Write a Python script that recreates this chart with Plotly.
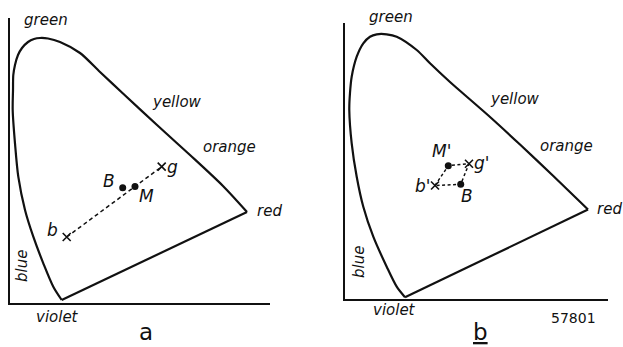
import plotly.graph_objects as go

W, H = 623, 347
SCALE = 320.0  # pixels per chromaticity unit on both panels

# Spectral locus of panel a, from the violet end over green to the red end
locus_a_x = [0.1616, 0.1353, 0.1041, 0.0728, 0.0469, 0.0259, 0.0156, 0.0084, 0.0094,
             0.0103, 0.0156, 0.0250, 0.0375, 0.0563, 0.0750, 0.0938, 0.1188, 0.1563,
             0.2188, 0.2813, 0.3531, 0.4594, 0.5625, 0.6656, 0.7406]
locus_a_y = [0.0078, 0.0494, 0.1225, 0.2056, 0.2891, 0.3931, 0.4975, 0.6016, 0.6641,
             0.7109, 0.7422, 0.7734, 0.7953, 0.8141, 0.8234, 0.8266, 0.8250, 0.8141,
             0.7797, 0.7203, 0.6531, 0.5547, 0.4609, 0.3641, 0.2828]

# Spectral locus of panel b
locus_b_x = [0.1875, 0.1616, 0.1303, 0.0884, 0.0572, 0.0366, 0.0209, 0.0134, 0.0156,
             0.0209, 0.0366, 0.0572, 0.0781, 0.0991, 0.1303, 0.1616, 0.2241, 0.2656,
             0.3281, 0.4428, 0.5469, 0.6510, 0.7594]
locus_b_y = [0.0053, 0.0384, 0.1009, 0.1947, 0.2884, 0.3822, 0.4866, 0.5906, 0.6438,
             0.6947, 0.7572, 0.7991, 0.8197, 0.8272, 0.8272, 0.8197, 0.7781, 0.7366,
             0.6781, 0.5781, 0.4828, 0.3844, 0.2797]

# Colour points of panel a: mixing line b-g with M on it, and B
pts_a_names = ["b", "g", "B", "M"]
pts_a_x = [0.1772, 0.4741, 0.3522, 0.3906]
pts_a_y = [0.2047, 0.4244, 0.3588, 0.3626]

# Colour points of panel b: parallelogram b'-M'-g'-B
pts_b_names = ["b'", "M'", "g'", "B"]
pts_b_x = [0.2813, 0.3228, 0.3875, 0.3616]
pts_b_y = [0.3547, 0.4166, 0.4228, 0.3584]

FONT = "DejaVu Sans"
INK = "#111111"

# pixel frames of the two panels: (left, right, top, bottom); origin = left/bottom
frames = {
    "a": dict(left=9.5, right=270, top=18, bottom=302.5, ox=10, oy=302.5),
    "b": dict(left=345, right=608, top=22.7, bottom=299, ox=345, oy=299),
}


def P(xpx, ypx):
    return xpx / W, 1 - ypx / H


fig = go.Figure()


def add_locus(lx, ly, xa, ya):
    fig.add_trace(go.Scatter(x=lx, y=ly, mode="lines", xaxis=xa, yaxis=ya,
                             line=dict(color=INK, width=2.2, shape="spline", smoothing=0.8),
                             hoverinfo="skip"))
    # purple line closing red back to violet
    fig.add_trace(go.Scatter(x=[lx[-1], lx[0]], y=[ly[-1], ly[0]], mode="lines",
                             xaxis=xa, yaxis=ya, line=dict(color=INK, width=2.2),
                             hoverinfo="skip"))


add_locus(locus_a_x, locus_a_y, "x", "y")
add_locus(locus_b_x, locus_b_y, "x2", "y2")

# panel a: dashed mixing line b -> g
fig.add_trace(go.Scatter(x=[pts_a_x[0], pts_a_x[1]], y=[pts_a_y[0], pts_a_y[1]],
                         mode="lines", xaxis="x", yaxis="y",
                         line=dict(color=INK, width=1.5, dash="4px,3px")))
fig.add_trace(go.Scatter(x=pts_a_x[:2], y=pts_a_y[:2], mode="markers", xaxis="x", yaxis="y",
                         marker=dict(symbol="x-thin", size=8, line=dict(color=INK, width=1.6))))
fig.add_trace(go.Scatter(x=pts_a_x[2:], y=pts_a_y[2:], mode="markers", xaxis="x", yaxis="y",
                         marker=dict(symbol="circle", size=7, color=INK)))

# panel b: dashed parallelogram b' -> M' -> g' -> B -> b'
order = [0, 1, 2, 3, 0]
fig.add_trace(go.Scatter(x=[pts_b_x[i] for i in order], y=[pts_b_y[i] for i in order],
                         mode="lines", xaxis="x2", yaxis="y2",
                         line=dict(color=INK, width=1.5, dash="3px,2.5px")))
fig.add_trace(go.Scatter(x=[pts_b_x[0], pts_b_x[2]], y=[pts_b_y[0], pts_b_y[2]],
                         mode="markers", xaxis="x2", yaxis="y2",
                         marker=dict(symbol="x-thin", size=8, line=dict(color=INK, width=1.6))))
fig.add_trace(go.Scatter(x=[pts_b_x[1], pts_b_x[3]], y=[pts_b_y[1], pts_b_y[3]],
                         mode="markers", xaxis="x2", yaxis="y2",
                         marker=dict(symbol="circle", size=7, color=INK)))

annotations = []

# labels for points, offset in pixels from each point
shifts_a = {"b": (-14, 7), "g": (11, 0), "B": (-14, 7), "M": (12, -10)}
for n, x, y in zip(pts_a_names, pts_a_x, pts_a_y):
    dx, dy = shifts_a[n]
    annotations.append(dict(x=x, y=y, xref="x", yref="y", text=f"<i>{n}</i>",
                            showarrow=False, xshift=dx, yshift=dy,
                            font=dict(family=FONT, size=17, color=INK)))
shifts_b = {"b'": (-13, 0), "M'": (-7, 15), "g'": (12, 1), "B": (6, -12)}
for n, x, y in zip(pts_b_names, pts_b_x, pts_b_y):
    dx, dy = shifts_b[n]
    annotations.append(dict(x=x, y=y, xref="x2", yref="y2", text=f"<i>{n}</i>",
                            showarrow=False, xshift=dx, yshift=dy,
                            font=dict(family=FONT, size=17, color=INK)))

# colour-name labels (pixel positions of text centres)
region_labels = [
    ("green", 46, 20, 0), ("yellow", 177, 102, 0), ("orange", 230, 147, 0),
    ("red", 269, 211, 0), ("blue", 21.5, 266.5, -90), ("violet", 57, 316.5, 0),
    ("green", 391.3, 16.5, 0), ("yellow", 515, 99, 0), ("orange", 566.7, 146, 0),
    ("red", 609.5, 208.5, 0), ("blue", 358.3, 261.7, -90), ("violet", 395, 310, 0),
]
for txt, xp, yp, ang in region_labels:
    px, py = P(xp, yp)
    annotations.append(dict(x=px, y=py, xref="paper", yref="paper", text=f"<i>{txt}</i>",
                            showarrow=False, textangle=ang, xanchor="center", yanchor="middle",
                            font=dict(family=FONT, size=15, color=INK)))

# panel letters sit on the bottom edge of the page
for txt, xp in [("a", 146), ("<u>b</u>", 480)]:
    annotations.append(dict(x=xp / W, y=0, xref="paper", yref="paper", text=txt,
                            showarrow=False, xanchor="center", yanchor="bottom",
                            font=dict(family=FONT, size=23, color=INK)))

px, py = P(573, 318)
annotations.append(dict(x=px, y=py, xref="paper", yref="paper", text="57801",
                        showarrow=False, xanchor="center", yanchor="middle",
                        font=dict(family=FONT, size=14, color=INK)))


def axis_pair(f):
    xd = [f["left"] / W, f["right"] / W]
    yd = [1 - f["bottom"] / H, 1 - f["top"] / H]
    xr = [(f["left"] - f["ox"]) / SCALE, (f["right"] - f["ox"]) / SCALE]
    yr = [(f["oy"] - f["bottom"]) / SCALE, (f["oy"] - f["top"]) / SCALE]
    common = dict(showgrid=False, zeroline=False, showticklabels=False, ticks="",
                  showline=True, linecolor=INK, linewidth=2.2, mirror=False, fixedrange=True)
    return dict(domain=xd, range=xr, **common), dict(domain=yd, range=yr, **common)


xa, ya = axis_pair(frames["a"])
xb, yb = axis_pair(frames["b"])
xb["anchor"] = "y2"
yb["anchor"] = "x2"
xa["anchor"] = "y"
ya["anchor"] = "x"

fig.update_layout(
    width=W, height=H, margin=dict(l=0, r=0, t=0, b=0),
    paper_bgcolor="white", plot_bgcolor="white", showlegend=False,
    xaxis=xa, yaxis=ya, xaxis2=xb, yaxis2=yb,
    annotations=annotations,
)

fig.write_html("out.html")
